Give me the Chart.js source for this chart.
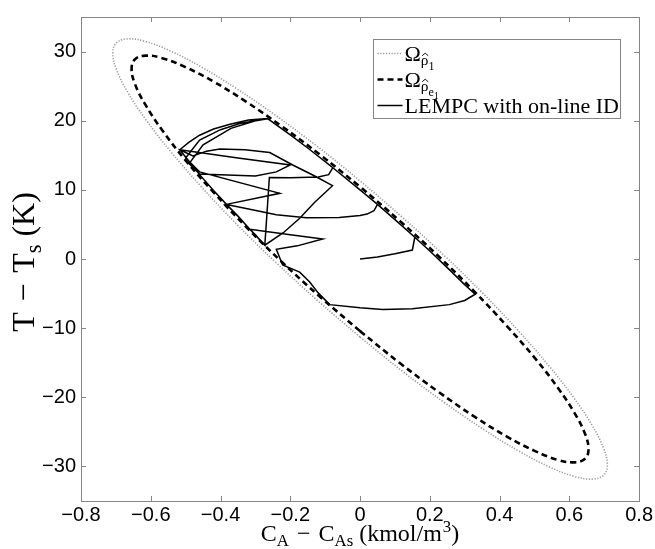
<!DOCTYPE html>
<html>
<head>
<meta charset="utf-8">
<script src="https://cdn.jsdelivr.net/npm/chart.js@4.4.1/dist/chart.umd.min.js"></script>
<style>
  html, body { margin: 0; padding: 0; background: #fff; }
</style>
</head>
<body>
<canvas id="grafico" width="655" height="549"></canvas>
<script>
const limX = [-0.8, 0.8];
const limY = [-35, 35];
const xTicks = [-0.8, -0.6, -0.4, -0.2, 0, 0.2, 0.4, 0.6, 0.8];
const yTicks = [-30, -20, -10, 0, 10, 20, 30];

// outer level set, dotted grey
const outerX = [0, -0.123, -0.243, -0.355, -0.456, -0.543, -0.614, -0.666, -0.698, -0.709, -0.698, -0.666, -0.614, -0.543, -0.456, -0.355, -0.243, -0.123,
  0, 0.123, 0.243, 0.355, 0.456, 0.543, 0.614, 0.666, 0.698, 0.709, 0.698, 0.666, 0.614, 0.543, 0.456, 0.355, 0.243, 0.123, 0];
const outerY = [-11.29, -5.95, -0.42, 5.11, 10.50, 15.55, 20.15, 24.11, 27.36, 29.78, 31.28, 31.83, 31.44, 30.07, 27.80, 24.67, 20.80, 16.29,
  11.29, 5.95, 0.42, -5.11, -10.50, -15.55, -20.15, -24.11, -27.36, -29.78, -31.28, -31.83, -31.44, -30.07, -27.80, -24.67, -20.80, -16.29, -11.29];

// inner level set, dashed black
const innerX = [0, -0.114, -0.225, -0.328, -0.421, -0.502, -0.567, -0.615, -0.645, -0.655, -0.645, -0.615, -0.567, -0.502, -0.421, -0.328, -0.225, -0.114,
  0, 0.114, 0.225, 0.328, 0.421, 0.502, 0.567, 0.615, 0.645, 0.655, 0.645, 0.615, 0.567, 0.502, 0.421, 0.328, 0.225, 0.114, 0];
const innerY = [-10.43, -5.50, -0.39, 4.72, 9.70, 14.37, 18.62, 22.28, 25.28, 27.52, 28.90, 29.41, 29.05, 27.78, 25.69, 22.80, 19.22, 15.05,
  10.43, 5.50, 0.39, -4.72, -9.70, -14.37, -18.62, -22.28, -25.28, -27.52, -28.90, -29.41, -29.05, -27.78, -25.69, -22.80, -19.22, -15.05, -10.43];

// closed-loop trajectory
const trajX = [0, 0.05, 0.1, 0.15, 0.157, 0.1, 0.05, 0.04, 0.02, 0.0, -0.06, -0.154, -0.24, -0.316, -0.383, -0.23, -0.46, -0.5, -0.46, -0.4,
  -0.345, -0.265, -0.2, -0.15, -0.078, -0.09, -0.12, -0.2, -0.26, -0.265, -0.273, -0.3, -0.316, -0.2, -0.107, -0.18, -0.24, -0.222, -0.173, -0.145,
  -0.12, -0.087, 0.0, 0.065, 0.15, 0.256, 0.3, 0.33, 0.3, 0.25, 0.2, 0.157, 0.1, 0.05, 0.0, -0.078, -0.15, -0.2, -0.265, -0.32,
  -0.373, -0.42, -0.46, -0.49, -0.517, -0.479, -0.44, -0.402, -0.33, -0.259, -0.193, -0.13, -0.079, -0.13, -0.173, -0.22, -0.273, -0.316, -0.35, -0.383,
  -0.42, -0.46, -0.488, -0.517, -0.35, -0.2, -0.24, -0.3, -0.46, -0.49, -0.45, -0.37, -0.3, -0.265];
const trajY = [0, 0.3, 0.75, 1.3, 3.15, 5.7, 7.9, 7.0, 6.5, 6.3, 6.0, 5.95, 6.4, 7.2, 7.9, 9.5, 12.6, 14.6, 17.2, 18.7,
  19.6, 20.3, 17.95, 16.05, 13.2, 12.2, 11.85, 11.75, 11.8, 8.0, 2.0, 3.5, 4.3, 3.5, 2.9, 1.9, 1.4, -0.86, -1.9, -3.3,
  -4.9, -6.6, -7.05, -7.3, -7.2, -6.6, -6.0, -5.1, -3.7, -1.25, 1.15, 3.15, 5.7, 7.9, 10.0, 13.2, 16.05, 17.95, 20.3, 20.1,
  19.5, 18.8, 17.9, 16.9, 15.8, 14.9, 15.6, 15.9, 15.8, 15.4, 13.6, 12.0, 10.6, 8.2, 5.9, 3.8, 2.0, 4.3, 6.2, 7.9,
  9.9, 12.2, 14.0, 15.8, 14.6, 13.6, 12.6, 12.0, 12.3, 13.8, 16.5, 18.9, 20.0, 20.3];

// legend / axis texts as [text, level, hat]: 0 normal, 1 sub, 2 sub-sub, 3 sub-sub-sub, -1 sup
const legendOuter = [['Ω', 0], ['ρ', 1, true], ['1', 2]];
const legendInner = [['Ω', 0], ['ρ', 1, true], ['e', 2], ['1', 3]];
const legendTraj = [['LEMPC with on-line ID', 0]];
const tituloX = [['C', 0], ['A', 1], ['\u2004−\u2004C', 0], ['As', 1], [' (kmol/m', 0], ['3', -1], [')', 0]];
const tituloY = [['T\u2004−\u2004T', 0], ['s', 1], [' (K)', 0]];

const serif = "'Liberation Serif', 'Times New Roman', serif";
const sans = "'Liberation Sans', Arial, sans-serif";
const cinza = '#858585';

function pontos(xs, ys) {
  return xs.map((x, i) => ({ x, y: ys[i] }));
}

function formatarTick(v) {
  return (v < 0 ? '\u2212' : '') + String(Math.abs(v));
}

function nivel(n, tam) {
  if (n === 0) return { t: tam, dy: 0 };
  if (n === -1) return { t: tam * 0.7, dy: -0.38 * tam };
  const esc = [1, 0.7, 0.55, 0.45][n];
  const dy = [0, 0.22, 0.42, 0.55][n];
  return { t: tam * esc, dy: dy * tam };
}

function larguraRica(ctx, partes, tam, fam) {
  let w = 0;
  partes.forEach(([t, n]) => {
    ctx.font = nivel(n, tam).t + 'px ' + fam;
    w += ctx.measureText(t).width + (n === -1 ? 1 : 0);
  });
  return w;
}

function textoRico(ctx, partes, x, y, tam, fam) {
  let px = x;
  partes.forEach(([t, n, chapeu]) => {
    const nv = nivel(n, tam);
    ctx.font = nv.t + 'px ' + fam;
    if (n === -1) px += 1;
    ctx.fillText(t, px, y + nv.dy);
    const w = ctx.measureText(t).width;
    if (chapeu) {
      const cx = px + w / 2 + 0.5, topo = y + nv.dy - nv.t * 0.62;
      ctx.save();
      ctx.strokeStyle = ctx.fillStyle;
      ctx.lineWidth = 0.9;
      ctx.beginPath();
      ctx.moveTo(cx - nv.t * 0.2, topo);
      ctx.lineTo(cx, topo - nv.t * 0.17);
      ctx.lineTo(cx + nv.t * 0.2, topo);
      ctx.stroke();
      ctx.restore();
    }
    px += w;
  });
}

const molduraPlugin = {
  id: 'moldura',
  afterDraw(chart) {
    const ctx = chart.ctx;
    const a = chart.chartArea;
    const sx = chart.scales.x, sy = chart.scales.y;
    ctx.save();
    ctx.strokeStyle = cinza;
    ctx.lineWidth = 1;
    ctx.beginPath();
    xTicks.forEach(v => {
      const p = Math.round(sx.getPixelForValue(v)) + 0.5;
      ctx.moveTo(p, a.bottom); ctx.lineTo(p, a.bottom - 5);
      ctx.moveTo(p, a.top); ctx.lineTo(p, a.top + 5);
    });
    yTicks.forEach(v => {
      const p = Math.round(sy.getPixelForValue(v)) + 0.5;
      ctx.moveTo(a.left, p); ctx.lineTo(a.left + 5, p);
      ctx.moveTo(a.right, p); ctx.lineTo(a.right - 5, p);
    });
    ctx.stroke();
    ctx.strokeRect(Math.round(a.left) + 0.5, Math.round(a.top) + 0.5, Math.round(a.right - a.left), Math.round(a.bottom - a.top));

    // axis titles
    ctx.fillStyle = '#000';
    ctx.textBaseline = 'alphabetic';
    ctx.textAlign = 'left';
    const tx = 24;
    const wx = larguraRica(ctx, tituloX, tx, serif);
    textoRico(ctx, tituloX, (a.left + a.right) / 2 - wx / 2, 541, tx, serif);

    const ty = 32;
    const wy = larguraRica(ctx, tituloY, ty, serif);
    ctx.translate(34, 262);
    ctx.rotate(-Math.PI / 2);
    textoRico(ctx, tituloY, -wy / 2, 0, ty, serif);
    ctx.restore();

    // legend
    ctx.save();
    const caixa = { x: 373.5, y: 39.5, w: 247, h: 79 };
    ctx.fillStyle = '#fff';
    ctx.fillRect(caixa.x, caixa.y, caixa.w, caixa.h);
    ctx.strokeStyle = cinza;
    ctx.lineWidth = 1;
    ctx.strokeRect(caixa.x, caixa.y, caixa.w, caixa.h);
    const linhas = [legendOuter, legendInner, legendTraj];
    const ds = chart.data.datasets;
    linhas.forEach((partes, i) => {
      const yy = caixa.y + 14 + i * 26;
      const d = ds[i];
      ctx.strokeStyle = d.borderColor;
      ctx.lineWidth = d.borderWidth;
      ctx.setLineDash(d.borderDash || []);
      ctx.beginPath();
      ctx.moveTo(caixa.x + 4, yy);
      ctx.lineTo(caixa.x + 29, yy);
      ctx.stroke();
      ctx.setLineDash([]);
      ctx.fillStyle = '#000';
      textoRico(ctx, partes, caixa.x + 31, yy + 7, 22, serif);
    });
    ctx.restore();
  }
};

new Chart(document.getElementById('grafico'), {
  type: 'scatter',
  data: {
    datasets: [
      {
        label: 'outer',
        data: pontos(outerX, outerY),
        showLine: true,
        borderColor: '#9a9a9a',
        borderWidth: 1.6,
        borderDash: [1.2, 1.6],
        pointRadius: 0,
        tension: 0.4,
        order: 2
      },
      {
        label: 'inner',
        data: pontos(innerX, innerY),
        showLine: true,
        borderColor: '#000',
        borderWidth: 2.6,
        borderDash: [6, 4],
        pointRadius: 0,
        tension: 0.4,
        order: 1
      },
      {
        label: 'LEMPC with on-line ID',
        data: pontos(trajX, trajY),
        showLine: true,
        borderColor: '#000',
        borderWidth: 1.5,
        pointRadius: 0,
        tension: 0,
        order: 0
      }
    ]
  },
  options: {
    responsive: false,
    devicePixelRatio: 1,
    animation: false,
    layout: { padding: { top: 13, right: 15, left: 0, bottom: 0 } },
    plugins: { legend: { display: false }, tooltip: { enabled: false } },
    scales: {
      x: {
        type: 'linear',
        min: limX[0], max: limX[1],
        afterBuildTicks: s => { s.ticks = xTicks.map(v => ({ value: v })); },
        afterFit: s => { s.height = 48; },
        grid: { drawOnChartArea: false, drawTicks: false },
        border: { color: cinza },
        ticks: { color: '#000', font: { family: sans, size: 20 }, padding: 2, maxRotation: 0, callback: formatarTick }
      },
      y: {
        type: 'linear',
        min: limY[0], max: limY[1],
        afterBuildTicks: s => { s.ticks = yTicks.map(v => ({ value: v })); },
        afterFit: s => { s.width = 81; },
        grid: { drawOnChartArea: false, drawTicks: false },
        border: { color: cinza },
        ticks: { color: '#000', font: { family: sans, size: 20 }, padding: 5, callback: formatarTick }
      }
    }
  },
  plugins: [molduraPlugin]
});
</script>
</body>
</html>
